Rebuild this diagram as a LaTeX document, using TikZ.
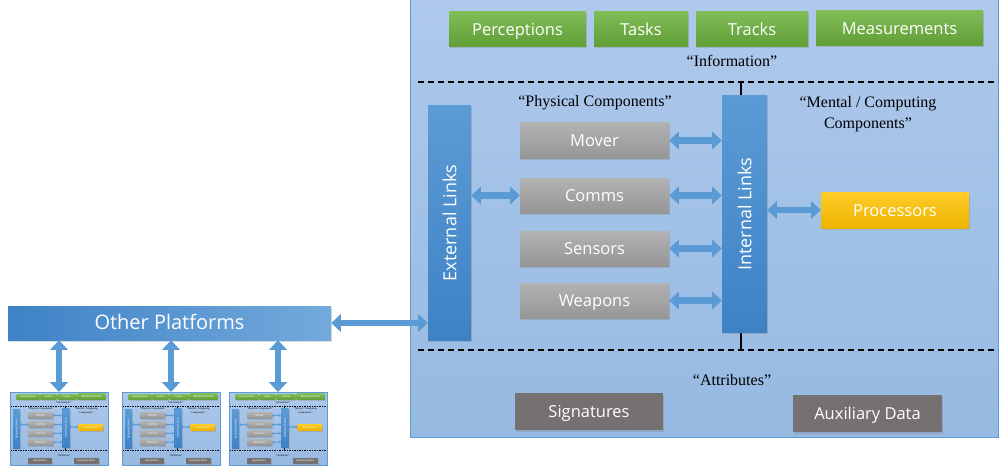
\documentclass[tikz,border=0pt]{standalone}
\usepackage{fontspec}
\usepackage{graphicx}
\setmainfont{Liberation Serif}
\newfontfamily\boxfont{Open Sans}
\usetikzlibrary{positioning, arrows.meta, shadows}

\definecolor{paneltop}{RGB}{174, 201, 235}
\definecolor{panelbot}{RGB}{150, 185, 226}
\definecolor{linkblue}{RGB}{91, 155, 213}
\definecolor{linkdark}{RGB}{62, 130, 198}
\definecolor{infolight}{RGB}{128, 188, 88}
\definecolor{infodark}{RGB}{96, 158, 54}
\definecolor{partlight}{RGB}{178, 178, 178}
\definecolor{partdark}{RGB}{150, 150, 150}
\definecolor{proclight}{RGB}{255, 204, 40}
\definecolor{procdark}{RGB}{236, 180, 0}
\definecolor{attrgray}{RGB}{118, 113, 113}

\tikzset{
  lw/.code={\def\lwf{#1}%
    \pgfmathsetlengthmacro\dashon{6pt*#1}%
    \pgfmathsetlengthmacro\dashoff{4pt*#1}},
  lw=1,
  box/.style={rectangle, inner sep=0pt, minimum height=35pt, text=white,
    text height=14pt, text depth=2pt,
    font=\boxfont\fontsize{16.5}{20}\selectfont,
    drop shadow={opacity=0.3, shadow xshift=1pt, shadow yshift=-1.5pt}},
  infobox/.style={box, top color=infolight, bottom color=infodark},
  partbox/.style={box, minimum width=149pt, top color=partlight, bottom color=partdark},
  procbox/.style={box, minimum width=148pt, minimum height=36pt, top color=proclight, bottom color=procdark},
  attrbox/.style={box, minimum width=148pt, minimum height=37pt, fill=attrgray},
  linkbox/.style={box, top color=linkblue, bottom color=linkdark,
    text height=, text depth=,
    font=\boxfont\fontsize{18}{21}\selectfont},
  otherbox/.style={box, minimum width=323pt, minimum height=34pt,
    text height=16pt, text depth=3pt,
    left color=linkdark, right color=linkblue!85!white,
    font=\boxfont\fontsize{20}{24}\selectfont},
  panel/.style={rectangle, draw=linkblue, line width=1pt*\lwf,
    top color=paneltop, bottom color=panelbot,
    minimum width=588pt, minimum height=437pt, inner sep=0pt},
  quote/.style={font=\fontsize{16}{21}\selectfont, align=center, inner sep=0pt},
  sepline/.style={line width=1.6pt*\lwf, dash pattern=on \dashon off \dashoff},
  tickline/.style={line width=1.2pt*\lwf},
  bigarrow/.style={{Triangle[length=0pt 1.5, width=0pt 2.7]}-{Triangle[length=0pt 1.5, width=0pt 2.7]},
    line width=6.5pt*\lwf, draw=linkblue},
  platform/.pic={
    \node[panel] (-panel) at (294,218.5) {};
    % information layer
    \node[infobox, minimum width=137pt] (-perc) at (107.5,29.5) {Perceptions};
    \node[infobox, minimum width=94pt] (-tasks) at (231,29.5) {Tasks};
    \node[infobox, minimum width=112pt] (-tracks) at (342,29.5) {Tracks};
    \node[infobox, minimum width=167pt] (-meas) at (489.5,28.5) {Measurements};
    \node[quote] (-info) at (322,61) {``Information''};
    \draw[sepline] (8,82) -- (588,82);
    \draw[sepline] (8,350) -- (588,350);
    \draw[tickline] (331,82) -- (331,350);
    % components
    \node[quote] (-phys) at (185,103) {``Physical Components''};
    \node[quote] (-mental) at (458,114) {``Mental / Computing\\Components''};
    \node[linkbox, minimum width=43pt, minimum height=234pt] (-ext) at (39.5,223)
      {\rotatebox{90}{External Links}};
    \node[linkbox, minimum width=45pt, minimum height=236pt] (-intl) at (334.5,214)
      {\rotatebox{90}{Internal Links}};
    \node[partbox] (-mover) at (184.5,140.5) {Mover};
    \node[partbox] (-comms) at (184.5,195.5) {Comms};
    \node[partbox] (-sensors) at (184.5,248.5) {Sensors};
    \node[partbox] (-weapons) at (184.5,300.5) {Weapons};
    \node[procbox] (-proc) at (485,210) {Processors};
    \draw[bigarrow] (-ext.east |- -comms) -- (-comms);
    \foreach \p in {mover,comms,sensors,weapons}
      \draw[bigarrow] (-\p) -- (-intl.west |- -\p);
    \draw[bigarrow] (-intl.east |- -proc) -- (-proc);
    % attributes
    \node[quote] (-attr) at (322,380) {``Attributes''};
    \node[attrbox] (-sig) at (179,411.5) {Signatures};
    \node[attrbox, minimum width=149pt] (-aux) at (457.5,413.5) {Auxiliary Data};
  }
}

\begin{document}
\begin{tikzpicture}[x=1pt, y=-1pt]
  \useasboundingbox (0,0) rectangle (1006,468);

  \pic (main) at (410,0) {platform};
  \pic[scale=0.1667, transform shape, lw=0.1667] (tA) at (10,392) {platform};
  \pic[scale=0.1667, transform shape, lw=0.1667] (tB) at (122,392) {platform};
  \pic[scale=0.1667, transform shape, lw=0.1667] (tC) at (229,392) {platform};

  \node[otherbox] (other) at (169.5,323) {Other Platforms};
  \draw[bigarrow] (other) -- (main-ext.west |- other);
  \foreach \t in {tA,tB,tC}
    \draw[bigarrow] (other.south -| \t-panel.north) -- (\t-panel.north);
\end{tikzpicture}
\end{document}
